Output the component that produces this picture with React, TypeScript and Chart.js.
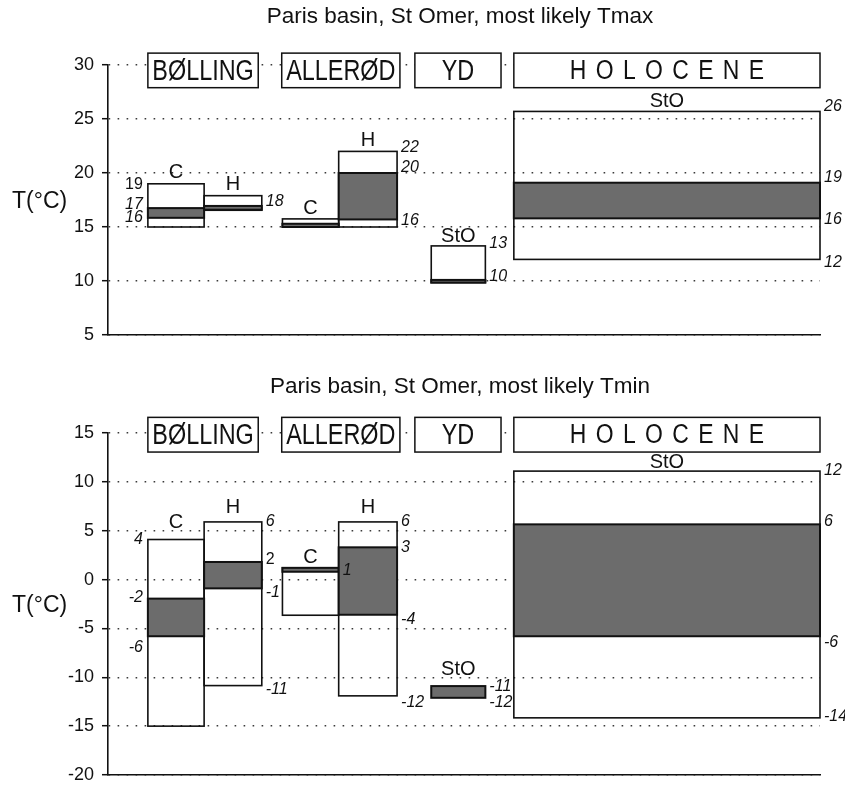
import React, { useEffect, useRef } from 'react';
import { Chart, registerables } from 'chart.js';

Chart.register(...registerables);

const FONT = '"Liberation Sans", Arial, Helvetica, sans-serif';

// ---- shared categories ----
const periods = ['BØLLING', 'ALLERØD', 'YD', 'HOLOCENE'];
const periodSpan = [[5.6, 21.1], [24.4, 41.0], [43.1, 55.2], [57, 100]];
const columns = ['Bølling C', 'Bølling H', 'Allerød C', 'Allerød H', 'YD StO', 'Holocene StO'];
const columnHeads = ['C', 'H', 'C', 'H', 'StO', 'StO'];
const columnSpan = [[5.6, 13.5], [13.5, 21.6], [24.5, 32.4], [32.4, 40.6], [45.4, 53.0], [57, 100]];

// ---- Tmax panel ----
const tmaxTitle = 'Paris basin, St Omer, most likely Tmax';
const tmaxTicks = [5, 10, 15, 20, 25, 30];
const tmaxRange = [[15, 19], [16.55, 17.9], [15, 15.75], [15, 22], [9.85, 13.25], [12, 25.7]];
const tmaxLikely = [[15.85, 16.75], [16.6, 16.95], [15, 15.3], [15.7, 20], [9.85, 10.1], [15.8, 19.1]];
const tmaxHeadAt = [20.05, 18.98, 16.67, 23.0, 14.1, 26.6];
const tmaxPeriodBand = [27.9, 31.1];
const tmaxNotes = [
  { col: 0, side: 'left', text: '19', at: 18.9, italic: false },
  { col: 0, side: 'left', text: '17', at: 17.1, italic: true },
  { col: 0, side: 'left', text: '16', at: 15.83, italic: true },
  { col: 1, side: 'right', text: '18', at: 17.4, italic: true },
  { col: 3, side: 'right', text: '22', at: 22.36, italic: true },
  { col: 3, side: 'right', text: '20', at: 20.5, italic: true },
  { col: 3, side: 'right', text: '16', at: 15.56, italic: true },
  { col: 4, side: 'right', text: '13', at: 13.43, italic: true },
  { col: 4, side: 'right', text: '10', at: 10.4, italic: true },
  { col: 5, side: 'right', text: '26', at: 26.14, italic: true },
  { col: 5, side: 'right', text: '19', at: 19.54, italic: true },
  { col: 5, side: 'right', text: '16', at: 15.65, italic: true },
  { col: 5, side: 'right', text: '12', at: 11.71, italic: true },
];

// ---- Tmin panel ----
const tminTitle = 'Paris basin, St Omer, most likely Tmin';
const tminTicks = [-20, -15, -10, -5, 0, 5, 10, 15];
const tminRange = [[-15, 4.1], [-10.85, 5.9], [-3.65, 1.2], [-11.9, 5.9], null, [-14.15, 11.1]];
const tminLikely = [[-5.8, -1.95], [-0.9, 1.8], [0.8, 1.2], [-3.6, 3.3], [-12.1, -10.9], [-5.8, 5.65]];
const tminHeadAt = [5.83, 7.42, 2.25, 7.42, -9.2, 11.98];
const tminPeriodBand = [13.05, 16.6];
const tminNotes = [
  { col: 0, side: 'left', text: '4', at: 4.1, italic: true },
  { col: 0, side: 'left', text: '-2', at: -1.87, italic: true },
  { col: 0, side: 'left', text: '-6', at: -7.0, italic: true },
  { col: 1, side: 'right', text: '6', at: 5.89, italic: true },
  { col: 1, side: 'right', text: '2', at: 2.05, italic: false },
  { col: 1, side: 'right', text: '-1', at: -1.33, italic: true },
  { col: 1, side: 'right', text: '-11', at: -11.26, italic: true },
  { col: 2, side: 'right', text: '1', at: 0.92, italic: true },
  { col: 3, side: 'right', text: '6', at: 5.94, italic: true },
  { col: 3, side: 'right', text: '3', at: 3.24, italic: true },
  { col: 3, side: 'right', text: '-4', at: -4.09, italic: true },
  { col: 3, side: 'right', text: '-12', at: -12.6, italic: true },
  { col: 4, side: 'right', text: '-11', at: -10.92, italic: true },
  { col: 4, side: 'right', text: '-12', at: -12.54, italic: true },
  { col: 5, side: 'right', text: '12', at: 11.18, italic: true },
  { col: 5, side: 'right', text: '6', at: 5.89, italic: true },
  { col: 5, side: 'right', text: '-6', at: -6.4, italic: true },
  { col: 5, side: 'right', text: '-14', at: -14.0, italic: true },
];

type Note = { col: number; side: string; text: string; at: number; italic: boolean };
type Panel = {
  title: string;
  ticks: number[];
  range: (number[] | null)[];
  likely: number[][];
  headAt: number[];
  band: number[];
  notes: Note[];
};

const tmaxPanel: Panel = {
  title: tmaxTitle, ticks: tmaxTicks, range: tmaxRange, likely: tmaxLikely,
  headAt: tmaxHeadAt, band: tmaxPeriodBand, notes: tmaxNotes,
};
const tminPanel: Panel = {
  title: tminTitle, ticks: tminTicks, range: tminRange, likely: tminLikely,
  headAt: tminHeadAt, band: tminPeriodBand, notes: tminNotes,
};

function makePlugin(p: Panel) {
  return {
    id: 'stomerBoxes',
    afterDraw(chart: any) {
      const { ctx, chartArea, scales } = chart;
      const xs = scales.x;
      const ys = scales.y;
      const px = (v: number) => xs.getPixelForValue(v);
      const py = (v: number) => ys.getPixelForValue(v);
      ctx.save();
      ctx.fillStyle = '#111';
      ctx.strokeStyle = '#111';

      // full ranges (open boxes)
      ctx.lineWidth = 1.6;
      p.range.forEach((r, i) => {
        if (!r) return;
        const [a, b] = columnSpan[i];
        ctx.strokeRect(px(a), py(r[1]), px(b) - px(a), py(r[0]) - py(r[1]));
      });

      // most likely ranges (grey)
      p.likely.forEach((r, i) => {
        const [a, b] = columnSpan[i];
        const x0 = px(a), y0 = py(r[1]), w = px(b) - px(a), h = py(r[0]) - py(r[1]);
        ctx.fillStyle = '#6c6c6c';
        ctx.fillRect(x0, y0, w, h);
        ctx.lineWidth = 2;
        ctx.strokeStyle = '#111';
        ctx.strokeRect(x0, y0, w, h);
      });

      // period boxes
      periods.forEach((name, i) => {
        const [a, b] = periodSpan[i];
        const x0 = px(a), x1 = px(b);
        const y0 = py(p.band[1]), y1 = py(p.band[0]);
        ctx.fillStyle = '#fff';
        ctx.fillRect(x0, y0, x1 - x0, y1 - y0);
        ctx.lineWidth = 1.5;
        ctx.strokeStyle = '#111';
        ctx.strokeRect(x0, y0, x1 - x0, y1 - y0);
        const wide = x1 - x0 > 200;
        const size = wide ? 27 : 30;
        const sx = wide ? 0.85 : 0.78;
        const ls = wide ? 11 : 0;
        ctx.save();
        ctx.translate((x0 + x1) / 2, (y0 + y1) / 2 + 1);
        ctx.scale(sx, 1);
        ctx.font = `${size}px ${FONT}`;
        (ctx as any).letterSpacing = `${ls}px`;
        ctx.textAlign = 'center';
        ctx.textBaseline = 'middle';
        ctx.fillStyle = '#111';
        ctx.fillText(name, ls / 2, 0);
        ctx.restore();
      });

      // column heads
      ctx.fillStyle = '#111';
      ctx.font = `20px ${FONT}`;
      ctx.textAlign = 'center';
      ctx.textBaseline = 'middle';
      columnHeads.forEach((h, i) => {
        const [a, b] = columnSpan[i];
        ctx.fillText(h, (px(a) + px(b)) / 2, py(p.headAt[i]));
      });

      // value notes
      p.notes.forEach((n) => {
        const [a, b] = columnSpan[n.col];
        ctx.font = `${n.italic ? 'italic ' : ''}16px ${FONT}`;
        ctx.textBaseline = 'middle';
        if (n.side === 'left') {
          ctx.textAlign = 'right';
          ctx.fillText(n.text, px(a) - 5, py(n.at));
        } else {
          ctx.textAlign = 'left';
          ctx.fillText(n.text, px(b) + 4, py(n.at));
        }
      });

      // axis title (horizontal)
      ctx.font = `23px ${FONT}`;
      ctx.textAlign = 'left';
      ctx.textBaseline = 'middle';
      ctx.fillText('T(°C)', 12, (chartArea.top + chartArea.bottom) / 2 + 2);

      // chart title
      ctx.font = `22.5px ${FONT}`;
      ctx.textAlign = 'center';
      ctx.textBaseline = 'alphabetic';
      ctx.fillText(p.title, 460, 23);

      ctx.restore();
    },
  };
}

function PanelChart({ panel, height, padTop, padBottom }: { panel: Panel; height: number; padTop: number; padBottom: number }) {
  const ref = useRef<HTMLCanvasElement | null>(null);
  useEffect(() => {
    if (!ref.current) return;
    const ticks = panel.ticks;
    const chart = new Chart(ref.current, {
      type: 'scatter',
      data: { datasets: [{ label: columns.join(', '), data: [] }] },
      options: {
        animation: false,
        responsive: false,
        events: [],
        layout: { padding: { top: padTop, bottom: padBottom, left: 0, right: 25 } },
        plugins: { legend: { display: false }, tooltip: { enabled: false }, title: { display: false } },
        scales: {
          x: {
            type: 'linear',
            min: 0,
            max: 100,
            display: true,
            grid: { display: false },
            ticks: { display: false },
            border: { display: true, color: '#111', width: 1.6 },
            afterFit: (s: any) => {
              s.height = 0;
              s.paddingLeft = 0;
              s.paddingRight = 0;
            },
          },
          y: {
            type: 'linear',
            min: ticks[0],
            max: ticks[ticks.length - 1],
            afterBuildTicks: (s: any) => { s.ticks = ticks.map((v) => ({ value: v })); },
            afterFit: (s: any) => {
              s.width = 108;
              s.paddingTop = 0;
              s.paddingBottom = 0;
            },
            grid: {
              color: '#3a3a3a',
              lineWidth: 1.4,
              tickLength: 6,
              tickColor: '#111',
              tickWidth: 1.5,
              tickBorderDash: [],
            },
            border: { display: true, color: '#111', width: 1.6, dash: [1.6, 7.4] },
            ticks: {
              color: '#111',
              font: { family: FONT, size: 18 },
              padding: 8,
              callback: (v: any) => String(v),
            },
          },
        },
      },
      plugins: [makePlugin(panel)],
    } as any);
    return () => chart.destroy();
  }, [panel, height, padTop, padBottom]);
  return <canvas ref={ref} width={845} height={height} style={{ display: 'block' }} />;
}

export default function App() {
  return (
    <div style={{ position: 'absolute', left: 0, top: 0, width: 845, height: 787, background: '#fff' }}>
      <PanelChart panel={tmaxPanel} height={370} padTop={65} padBottom={35} />
      <PanelChart panel={tminPanel} height={417} padTop={63} padBottom={12} />
    </div>
  );
}
